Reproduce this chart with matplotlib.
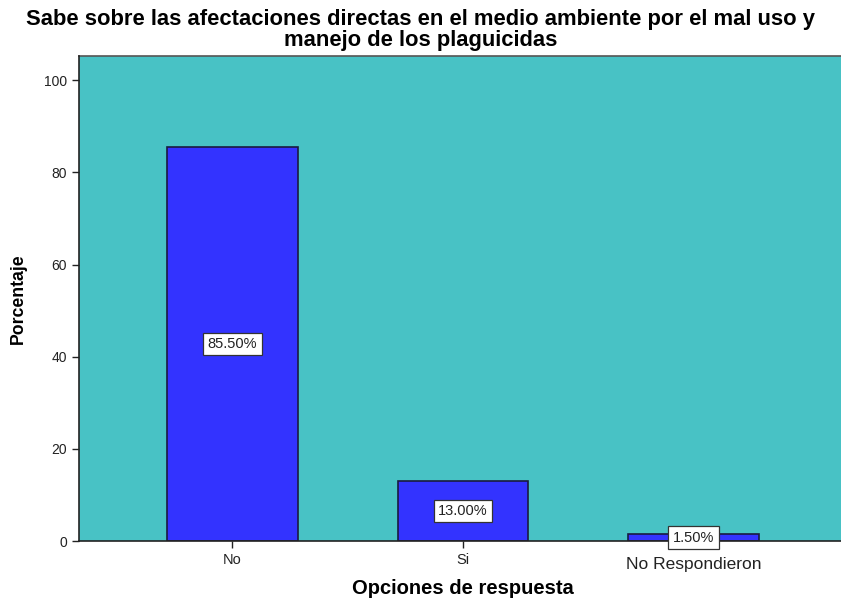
import matplotlib
matplotlib.use("Agg")
import matplotlib.pyplot as plt

plt.rcParams['font.family'] = ['Liberation Sans', 'DejaVu Sans']

categories = ["No", "Si", "No Respondieron"]
percentages = [85.5, 13.0, 1.5]
value_labels = ["85.50%", "13.00%", "1.50%"]
y_ticks = [0, 20, 40, 60, 80, 100]

title = "Sabe sobre las afectaciones directas en el medio ambiente por el mal uso y\nmanejo de los plaguicidas"

fig = plt.figure(figsize=(8.41, 6.0), dpi=100)
ax = fig.add_axes([0.0939, 0.0983, 0.9061, 0.8084])
ax.set_facecolor("#48C2C5")

x = list(range(len(categories)))
ax.bar(x, percentages, width=0.568, color="#3333FF", edgecolor="#1a1a40",
       linewidth=1.2, zorder=2)

for xi, v, lab in zip(x, percentages, value_labels):
    ax.text(xi, v / 2, lab, ha="center", va="center", fontsize=10.5, color="#222222",
            zorder=4,
            bbox=dict(boxstyle="square,pad=0.3", facecolor="white",
                      edgecolor="#333333", linewidth=0.9))

ax.set_xlim(-0.666, 2.64)
ax.set_ylim(0, 105.25)
ax.set_yticks(y_ticks)
ax.set_xticks(x)
ax.set_xticklabels(categories)
ax.tick_params(axis="y", direction="out", length=5, width=1, labelsize=10, colors="#222222")
ax.tick_params(axis="x", direction="out", length=5, width=1, labelsize=10.5, colors="#222222")
for lbl in ax.get_xticklabels():
    if lbl.get_text() == "No Respondieron":
        lbl.set_fontsize(12.5)
        lbl.set_y(-0.008)

for side in ["right", "top"]:
    ax.spines[side].set_visible(False)
ax.spines["left"].set_linewidth(1.2)
ax.spines["bottom"].set_linewidth(1.2)
ax.spines["left"].set_color("#222222")
ax.spines["bottom"].set_color("#222222")
ax.plot([0, 1], [1, 1], transform=ax.transAxes, color="#555555", lw=1.2, clip_on=False)

ax.set_ylabel("Porcentaje", fontsize=12.7, fontweight="bold", labelpad=12)
fig.text(463 / 841, 1 - 589 / 600, "Opciones de respuesta", ha="center", va="center",
         fontsize=14.5, fontweight="bold")
fig.text(0.5, 0.985, title, ha="center", va="top", fontsize=15.8,
         fontweight="bold", linespacing=1.02)

fig.savefig("out.png", dpi=100)
